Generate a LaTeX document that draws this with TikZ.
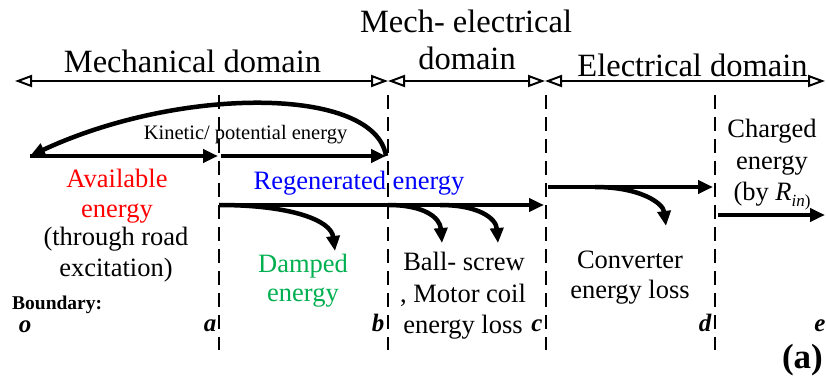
\documentclass[tikz,border=0pt]{standalone}
\usepackage{fontspec}
\setmainfont{Liberation Serif}
\usetikzlibrary{arrows.meta}
\definecolor{dgreen}{RGB}{0,176,80}
\begin{document}
\begin{tikzpicture}[x=1pt,y=-1pt,
  domarrow/.style={line width=2pt,{Triangle[open,length=17pt,width=12pt]}-{Triangle[open,length=17pt,width=12pt]}},
  flow/.style={line width=4.5pt,-{Triangle[length=15pt,width=13pt]}},
  bound/.style={line width=2pt,dash pattern=on 14pt off 8pt},
  big/.style={font=\fontsize{32.5}{37}\selectfont},
  lbl/.style={font=\fontsize{26.5}{30}\selectfont},
  small/.style={font=\fontsize{20.5}{24}\selectfont},
  letter/.style={font=\fontsize{25}{28}\selectfont\bfseries\itshape},
  txt/.style={inner sep=0pt,anchor=base}]
\useasboundingbox (0,0) rectangle (826,379);
% boundary coordinates
\coordinate (L) at (15,81);
\coordinate (Bt) at (388,81);
\coordinate (Ct) at (545,81);
\coordinate (R) at (825,81);
% domain arrows
\draw[domarrow] (L) -- (Bt);
\draw[domarrow] (Bt) -- (Ct);
\draw[domarrow] (Ct) -- (R);
\node[txt,big] (mech) at (192.5,73) {Mechanical domain};
\node[txt,big] (me1) at (466,33) {Mech- electrical};
\node[txt,big] (me2) at (467,70) {domain};
\node[txt,big] (elec) at (692.5,77) {Electrical domain};
% dashed boundaries
\foreach \n/\x in {a/219,b/388,c/546,d/715}{
  \coordinate (\n top) at (\x,95);
  \coordinate (\n bot) at (\x,350);
  \draw[bound] (\n top) -- (\n bot);
}
% kinetic arrows
\coordinate (o1) at (30,156);
\coordinate (a1) at (218,156);
\coordinate (a2) at (221,156);
\coordinate (b1) at (386,156);
\draw[flow] (o1) -- (a1);
\draw[flow] (a2) -- (b1);
\draw[flow] (b1) .. controls (375,86) and (180,86) .. (o1);
\node[txt,small] (kin) at (245.5,140) {Kinetic/ potential energy};
% regenerated
\coordinate (a3) at (219,205);
\coordinate (c1) at (544,205);
\coordinate (dmp) at (335,251);
\coordinate (s2) at (388,205);
\coordinate (t2) at (442,243);
\coordinate (s3) at (440,205);
\coordinate (t3) at (498,243);
\draw[flow] (a3) -- (c1);
\draw[flow] (a3) .. controls (290,205) and (331,220) .. (dmp);
\draw[flow] (s2) .. controls (425,205) and (440,218) .. (t2);
\draw[flow] (s3) .. controls (478,205) and (496,218) .. (t3);
% converter
\coordinate (c2) at (548,187);
\coordinate (d1) at (713,187);
\coordinate (s4) at (595,187);
\coordinate (t4) at (666,226);
\draw[flow] (c2) -- (d1);
\draw[flow] (s4) .. controls (640,187) and (663,203) .. (t4);
% charged
\coordinate (d2) at (718,215);
\coordinate (e1) at (825,215);
\draw[flow] (d2) -- (e1);
% labels
\node[txt,lbl,red] (av1) at (117,188) {Available};
\node[txt,lbl,red] (av2) at (117,218) {energy};
\node[txt,lbl] (av3) at (116,245) {(through road};
\node[txt,lbl] (av4) at (116,276) {excitation)};
\node[txt,lbl,blue] (reg) at (359,190) {Regenerated energy};
\node[txt,lbl,dgreen] (dm1) at (303,272) {Damped};
\node[txt,lbl,dgreen] (dm2) at (303,301) {energy};
\node[txt,lbl] (bs1) at (464,270) {Ball- screw};
\node[txt,lbl] (bs2) at (463,302) {, Motor coil};
\node[txt,lbl] (bs3) at (463,333) {energy loss};
\node[txt,lbl] (cv1) at (630,268) {Converter};
\node[txt,lbl] (cv2) at (630,298) {energy loss};
\node[txt,lbl] (ch1) at (772,138) {Charged};
\node[txt,lbl] (ch2) at (772,170) {energy};
\node[txt,lbl] (ch3) at (772,201) {(by \textit{R}\raisebox{-0.22em}{\fontsize{17}{17}\selectfont\textit{in})}};
\node[txt,anchor=base west,font=\fontsize{19.5}{24}\selectfont\bfseries] (bnd) at (12,309) {Boundary:};
\node[txt,letter] (lo) at (25,332) {o};
\node[txt,letter] (la) at (210,331) {a};
\node[txt,letter] (lb) at (378,331) {b};
\node[txt,letter] (lc) at (537,331) {c};
\node[txt,letter] (ld) at (705,331) {d};
\node[txt,letter] (le) at (820,331) {e};
\node[txt,anchor=base east,font=\fontsize{35}{40}\selectfont\bfseries] (pa) at (823,368) {(a)};
\end{tikzpicture}
\end{document}
